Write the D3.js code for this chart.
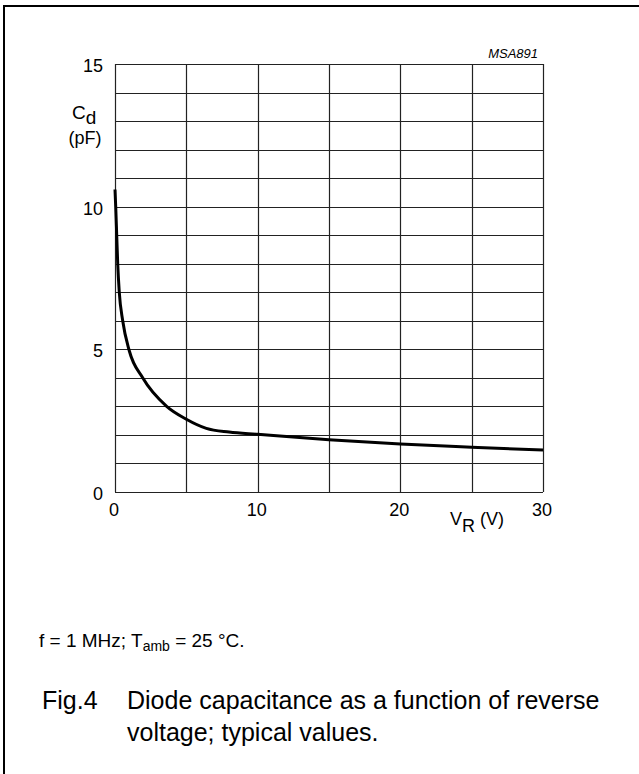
<!DOCTYPE html>
<html>
<head>
<meta charset="utf-8">
<script src="https://cdn.jsdelivr.net/npm/d3@7"></script>
<style>
  body { margin: 0; background: #fff; }
  svg { font-family: "Liberation Sans", Arial, Helvetica, sans-serif; }
</style>
</head>
<body>
<svg width="639" height="774"></svg>
<script>
var width = 639;
var height = 774;

// reverse voltage (V) and diode capacitance (pF)
var voltage     = [0,    0.05, 0.12, 0.19, 0.3, 0.54, 1.0,  1.94, 3.62, 5.0,  6.4,  8.0,  10,   15,   20,   25,   30];
var capacitance = [10.6, 10,   9,    8,    7,   6,    4.95, 4,    3,    2.55, 2.23, 2.1,  2.02, 1.83, 1.68, 1.57, 1.47];

var xTicks = [0, 10, 20, 30];
var yTicks = [0, 5, 10, 15];
var xGrid = [0, 5, 10, 15, 20, 25, 30];
var yGrid = d3.range(0, 16);

var plotLeft = 115, plotRight = 543, plotTop = 64, plotBottom = 492;

var xScale = d3.scaleLinear()
                .domain([0, 30])
                .range([plotLeft, plotRight]);

var yScale = d3.scaleLinear()
                .domain([0, 15])
                .range([plotBottom, plotTop]);

var svg = d3.select("svg");

// page frame (only left and top edges fall inside the picture)
svg.append("rect")
    .attr("x", 4)
    .attr("y", 6)
    .attr("width", 800)
    .attr("height", 900)
    .attr("fill", "none")
    .attr("stroke", "#000")
    .attr("stroke-width", 2);

// grid
svg.append("g")
  .selectAll("line")
  .data(xGrid)
  .enter()
  .append("line")
    .attr("x1", d => Math.round(xScale(d)) + 0.5)
    .attr("x2", d => Math.round(xScale(d)) + 0.5)
    .attr("y1", plotTop)
    .attr("y2", plotBottom)
    .attr("stroke", "#222")
    .attr("stroke-width", 1.2);

svg.append("g")
  .selectAll("line")
  .data(yGrid)
  .enter()
  .append("line")
    .attr("x1", plotLeft)
    .attr("x2", plotRight)
    .attr("y1", d => Math.round(yScale(d)) + 0.5)
    .attr("y2", d => Math.round(yScale(d)) + 0.5)
    .attr("stroke", "#222")
    .attr("stroke-width", 1.2);

// curve
var line = d3.line()
    .x((d, i) => xScale(voltage[i]))
    .y(d => yScale(d))
    .curve(d3.curveMonotoneX);

svg.append("path")
    .datum(capacitance)
    .attr("d", line)
    .attr("fill", "none")
    .attr("stroke", "#000")
    .attr("stroke-width", 3);

// tick labels
svg.append("g")
  .selectAll("text")
  .data(yTicks)
  .enter()
  .append("text")
    .attr("x", 103)
    .attr("y", d => yScale(d) + 8)
    .style("text-anchor", "end")
    .style("font-size", "18px")
    .text(d => d);

svg.append("g")
  .selectAll("text")
  .data(xTicks)
  .enter()
  .append("text")
    .attr("x", d => xScale(d) - 1)
    .attr("y", 516)
    .style("text-anchor", "middle")
    .style("font-size", "18px")
    .text(d => d);

// axis titles
var yTitle = svg.append("text")
    .attr("x", 72)
    .attr("y", 119)
    .style("font-size", "19px");
yTitle.append("tspan").text("C");
yTitle.append("tspan").attr("dy", 5).text("d");

svg.append("text")
    .attr("x", 85)
    .attr("y", 144)
    .style("text-anchor", "middle")
    .style("font-size", "18px")
    .text("(pF)");

var xTitle = svg.append("text")
    .attr("x", 450)
    .attr("y", 525)
    .style("font-size", "18px");
xTitle.append("tspan").text("V");
xTitle.append("tspan").attr("dy", 7).text("R");
xTitle.append("tspan").attr("dy", -7).text(" (V)");

svg.append("text")
    .attr("x", 538)
    .attr("y", 58)
    .style("text-anchor", "end")
    .style("font-size", "13px")
    .style("font-style", "italic")
    .text("MSA891");

// conditions note
var note = svg.append("text")
    .attr("x", 39)
    .attr("y", 647)
    .style("font-size", "19px");
note.append("tspan").text("f = 1 MHz; T");
note.append("tspan").attr("dy", 4).style("font-size", "14px").text("amb");
note.append("tspan").attr("dy", -4).text(" = 25 \u00B0C.");

// caption
svg.append("text")
    .attr("x", 42)
    .attr("y", 709)
    .style("font-size", "25px")
    .text("Fig.4");

svg.append("text")
    .attr("x", 127)
    .attr("y", 709)
    .style("font-size", "25px")
    .text("Diode capacitance as a function of reverse");

svg.append("text")
    .attr("x", 127)
    .attr("y", 741)
    .style("font-size", "25px")
    .text("voltage; typical values.");
</script>
</body>
</html>
